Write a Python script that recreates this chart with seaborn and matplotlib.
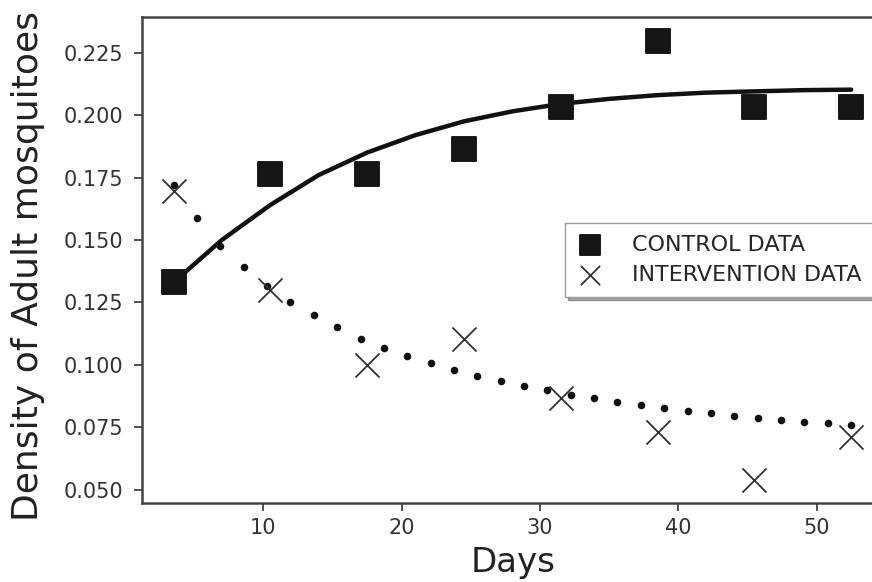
import seaborn as sns
import matplotlib.pyplot as plt
import pandas as pd

# measured points (every 7 days)
days = [3.5, 10.5, 17.5, 24.5, 31.5, 38.5, 45.5, 52.5]
control = [0.133, 0.1765, 0.1765, 0.1865, 0.2034, 0.2298, 0.2032, 0.2032]
intervention = [0.1697, 0.130, 0.100, 0.1104, 0.0868, 0.073, 0.0539, 0.0712]

# fitted control curve (solid line)
ctrl_fit_days = [3.5, 7, 10.5, 14, 17.5, 21, 24.5, 28, 31.5, 35, 38.5, 42, 45.5, 49, 52.5]
ctrl_fit = [0.133, 0.150, 0.164, 0.176, 0.185, 0.192, 0.1975, 0.2015, 0.2045,
            0.2065, 0.208, 0.209, 0.2095, 0.210, 0.2102]

# fitted intervention curve, drawn as 30 dots
int_fit_days = [3.5, 5.19, 6.88, 8.57, 10.26, 11.95, 13.64, 15.33, 17.02, 18.71,
                20.4, 22.09, 23.78, 25.47, 27.16, 28.84, 30.53, 32.22, 33.91, 35.6,
                37.29, 38.98, 40.67, 42.36, 44.05, 45.74, 47.43, 49.12, 50.81, 52.5]
int_fit = [0.172, 0.1588, 0.1474, 0.139, 0.1314, 0.1252, 0.1198, 0.1151, 0.1103, 0.1067,
           0.1034, 0.1007, 0.0978, 0.0954, 0.0934, 0.0914, 0.0898, 0.088, 0.0867, 0.0851,
           0.0838, 0.0827, 0.0813, 0.0805, 0.0796, 0.0787, 0.0778, 0.0771, 0.0766, 0.076]

points = pd.DataFrame({'Days': days, 'control': control, 'intervention': intervention})
ctrl_curve = pd.DataFrame({'Days': ctrl_fit_days, 'density': ctrl_fit})
int_curve = pd.DataFrame({'Days': int_fit_days, 'density': int_fit})

sns.set_style("ticks")
plt.rcParams['font.family'] = ['DejaVu Sans']

fig = plt.figure(figsize=(8.72, 5.82), dpi=100)
ax = fig.add_axes([141.7 / 872, 78.7 / 582, 743.4 / 872, 486.3 / 582])

sns.lineplot(x='Days', y='density', data=ctrl_curve, ax=ax, color='#111111', legend=False)
ax.lines[-1].set_linewidth(3.2)
sns.scatterplot(x='Days', y='density', data=int_curve, ax=ax, color='#111111',
                s=30, linewidth=0, legend=False)

sns.scatterplot(x='Days', y='control', data=points, ax=ax, marker='s', s=300,
                color='#151515', edgecolor='#151515', label='CONTROL DATA', zorder=3)
sns.scatterplot(x='Days', y='intervention', data=points, ax=ax, marker='x', s=300,
                color='#333333', linewidth=1.3, label='INTERVENTION DATA', zorder=3)

ax.set_xlim(1.2, 54.95)
ax.set_ylim(0.0445, 0.2393)
ax.set_xticks([10, 20, 30, 40, 50])
ax.set_yticks([0.05, 0.075, 0.1, 0.125, 0.15, 0.175, 0.2, 0.225])
ax.set_yticklabels(['0.050', '0.075', '0.100', '0.125', '0.150', '0.175', '0.200', '0.225'])
ax.tick_params(labelsize=15, labelcolor='#333333', length=5.5, width=1.2, color='#333333')
ax.tick_params(axis='y', pad=8)
ax.tick_params(axis='x', pad=5)
for sp in ax.spines.values():
    sp.set_linewidth(1.8)
    sp.set_color('#444444')

ax.set_xlabel('Days', fontsize=24.5, color='#222222', labelpad=6)
ax.set_ylabel('Density of Adult mosquitoes', fontsize=26, color='#222222')
ax.yaxis.set_label_coords(-0.130, 0.487)

leg = ax.legend(loc='center right', shadow=True, fancybox=False, fontsize=16,
                edgecolor='#999999', borderpad=0.55, handlelength=1.15, handletextpad=1.32,
                labelspacing=0.45, markerscale=0.8)
leg.get_frame().set_linewidth(1.0)

fig.savefig('out.png', dpi=100)
